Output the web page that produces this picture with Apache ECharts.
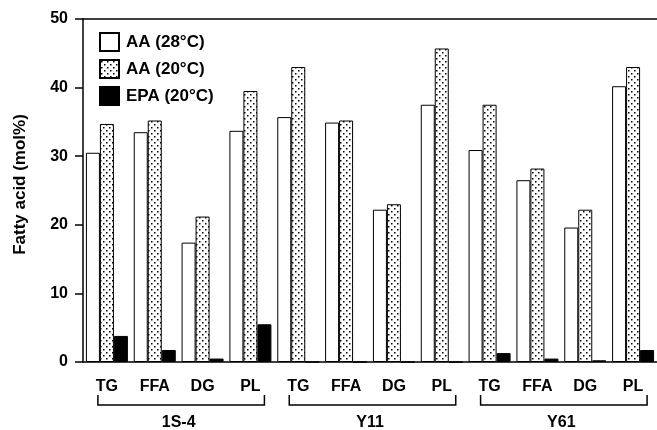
<!DOCTYPE html>
<html>
<head>
<meta charset="utf-8">
<script src="https://cdn.jsdelivr.net/npm/echarts@6/dist/echarts.min.js"></script>
<style>
    html, body { margin: 0; padding: 0; background: #fff; }
    #chart { width: 657px; height: 430px; }
</style>
</head>
<body>
<div id="chart"></div>
<script>
// lipid classes, repeated for each strain
var classes = ['TG', 'FFA', 'DG', 'PL', 'TG', 'FFA', 'DG', 'PL', 'TG', 'FFA', 'DG', 'PL'];
var strains = ['1S-4', 'Y11', 'Y61'];
var seriesNames = ['AA (28°C)', 'AA (20°C)', 'EPA (20°C)'];

// mol% values
var aa28 = [30.5, 33.5, 17.4, 33.7, 35.7, 34.9, 22.2, 37.5, 30.9, 26.5, 19.6, 40.2];
var aa20 = [34.7, 35.2, 21.2, 39.5, 43.0, 35.2, 23.0, 45.7, 37.5, 28.2, 22.2, 43.0];
var epa20 = [3.8, 1.75, 0.5, 5.5, 0, 0, 0, 0, 1.3, 0.5, 0.25, 1.75];

var yTicks = [0, 10, 20, 30, 40, 50];

var font = '"Liberation Sans", Arial, sans-serif';

// stippled fill for the 20°C AA bars
function makeDots() {
    var c = document.createElement('canvas');
    c.width = 6;
    c.height = 6;
    var ctx = c.getContext('2d');
    ctx.fillStyle = '#fff';
    ctx.fillRect(0, 0, 6, 6);
    ctx.fillStyle = '#000';
    ctx.fillRect(1, 1, 1.5, 1.5);
    ctx.fillRect(4, 4, 1.5, 1.5);
    return c;
}
var dots = makeDots();

var fills = ['#ffffff', { image: dots, repeat: 'repeat' }, '#000000'];
var values = [aa28, aa20, epa20];

var series = [];
for (var i = 0; i < values.length; i++) {
    series.push({
        name: seriesNames[i],
        type: 'bar',
        data: values[i],
        barWidth: 14,
        barGap: '0%',
        itemStyle: {
            color: fills[i],
            borderColor: '#000',
            borderWidth: 1
        },
        emphasis: { disabled: true },
        animation: false
    });
}

var myChart = echarts.init(document.getElementById('chart'));

var option = {
    animation: false,
    textStyle: { fontFamily: font },
    grid: {
        left: 83,
        right: 0,
        top: 19,
        bottom: 68
    },
    legend: {
        orient: 'vertical',
        left: 99,
        top: 32,
        padding: 0,
        icon: 'rect',
        itemWidth: 19,
        itemHeight: 18,
        itemGap: 7,
        selectedMode: false,
        textStyle: {
            fontFamily: font,
            fontSize: 17,
            fontWeight: 'bold',
            color: '#000',
            padding: [0, 0, 0, 2]
        },
        data: seriesNames
    },
    xAxis: [
        {
            type: 'category',
            data: classes,
            position: 'bottom',
            axisLine: { lineStyle: { color: '#000', width: 1.5 } },
            axisTick: { show: false },
            axisLabel: {
                color: '#000',
                fontFamily: font,
                fontSize: 16,
                fontWeight: 'bold',
                margin: 17,
                interval: 0
            }
        },
        {
            // top frame line
            type: 'category',
            data: classes,
            position: 'top',
            axisLine: { lineStyle: { color: '#000', width: 1.5 } },
            axisTick: { show: false },
            axisLabel: { show: false }
        }
    ],
    yAxis: {
        type: 'value',
        min: yTicks[0],
        max: yTicks[yTicks.length - 1],
        interval: 10,
        name: 'Fatty acid (mol%)',
        nameLocation: 'middle',
        nameGap: 54,
        nameTextStyle: {
            color: '#000',
            fontFamily: font,
            fontSize: 17,
            fontWeight: 'bold',
            padding: [0, 0, 0, 12]
        },
        axisLine: { show: true, lineStyle: { color: '#000', width: 1.5 } },
        axisTick: { show: true, length: 8, lineStyle: { color: '#000', width: 1.5 } },
        splitLine: { show: false },
        axisLabel: {
            color: '#000',
            fontFamily: font,
            fontSize: 16,
            fontWeight: 'bold',
            margin: 15
        }
    },
    series: series
};

myChart.setOption(option);

// brackets and strain names under the category labels
function drawBrackets() {
    var base = myChart.convertToPixel({ yAxisIndex: 0 }, 0);
    var els = [];
    for (var g = 0; g < strains.length; g++) {
        var x0 = myChart.convertToPixel({ xAxisIndex: 0 }, g * 4);
        var x1 = myChart.convertToPixel({ xAxisIndex: 0 }, g * 4 + 3);
        var left = x0 - 9;
        var right = x1 + 14;
        var yTop = base + 33;
        var yLine = base + 43;
        els.push({
            type: 'polyline',
            shape: { points: [[left, yTop], [left, yLine], [right, yLine], [right, yTop]] },
            style: { stroke: '#000', lineWidth: 1.5, fill: null },
            silent: true
        });
        els.push({
            type: 'text',
            x: (x0 + x1) / 2,
            y: base + 61,
            style: {
                text: strains[g],
                fill: '#000',
                font: 'bold 16px ' + font,
                align: 'center',
                verticalAlign: 'middle'
            },
            silent: true
        });
    }
    myChart.setOption({ graphic: els });
}
drawBrackets();
</script>
</body>
</html>
